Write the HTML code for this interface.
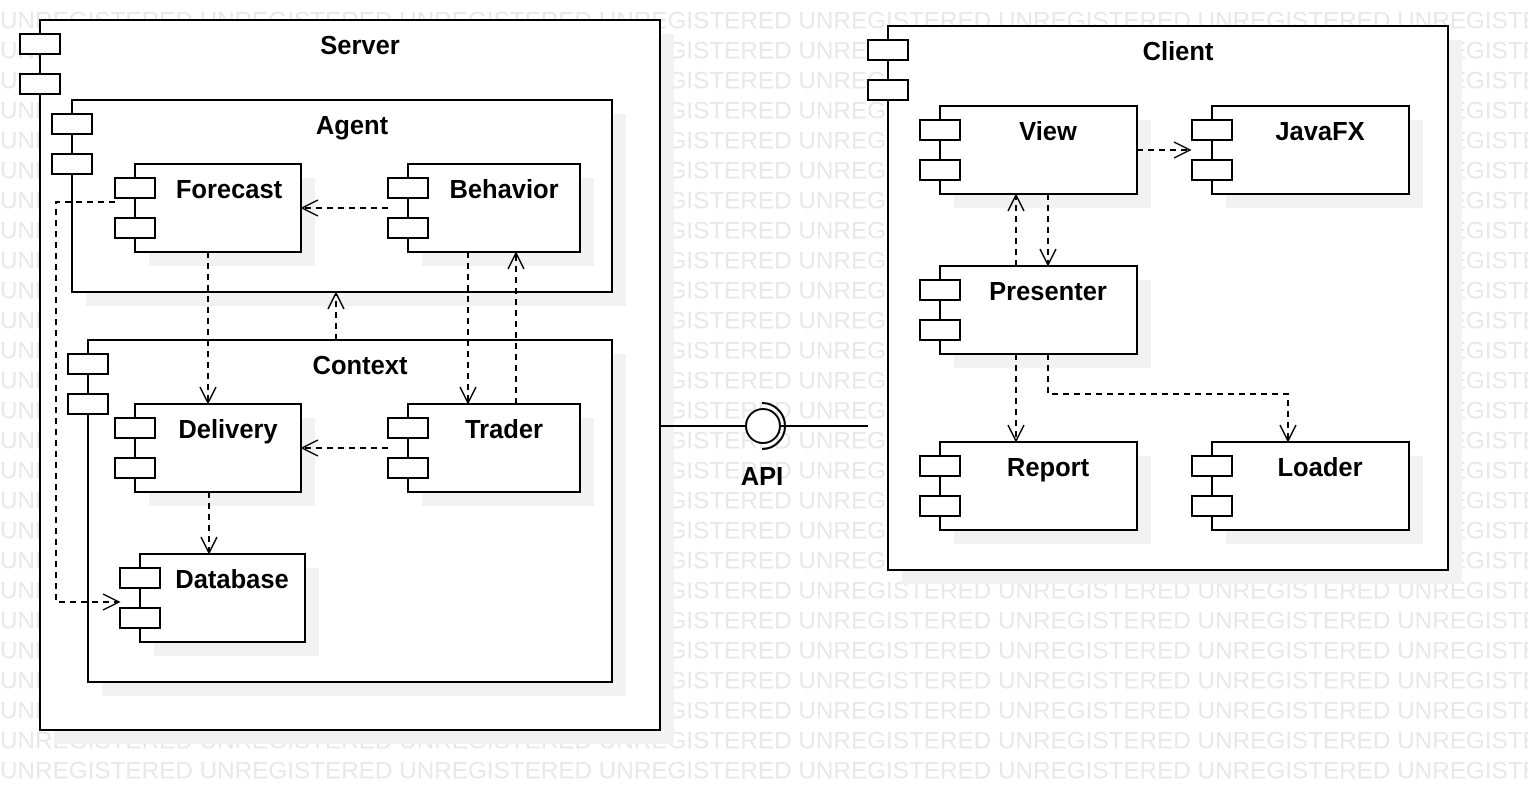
<!DOCTYPE html>
<html><head><meta charset="utf-8"><style>
html,body{margin:0;padding:0;background:#fff;width:1528px;height:810px;overflow:hidden}
svg{display:block}
.wm{font-family:"Liberation Sans",sans-serif;font-size:24px;fill:#e8e8e8}
.lb{font-family:"Liberation Sans",sans-serif;font-size:25.5px;font-weight:bold;fill:#000;text-anchor:middle}
.b{fill:#fff;stroke:#000;stroke-width:2}
.s{fill:#f2f2f2}
.d{fill:none;stroke:#000;stroke-width:2;stroke-dasharray:6,5}
.a{fill:none;stroke:#000;stroke-width:1.5}
</style></head><body>
<svg width="1528" height="810" xmlns="http://www.w3.org/2000/svg">
<g class="wm">
<text x="0" y="-1.5" textLength="1590" lengthAdjust="spacingAndGlyphs">UNREGISTERED UNREGISTERED UNREGISTERED UNREGISTERED UNREGISTERED UNREGISTERED UNREGISTERED UNREGISTERED</text>
<text x="0" y="28.5" textLength="1590" lengthAdjust="spacingAndGlyphs">UNREGISTERED UNREGISTERED UNREGISTERED UNREGISTERED UNREGISTERED UNREGISTERED UNREGISTERED UNREGISTERED</text>
<text x="0" y="58.5" textLength="1590" lengthAdjust="spacingAndGlyphs">UNREGISTERED UNREGISTERED UNREGISTERED UNREGISTERED UNREGISTERED UNREGISTERED UNREGISTERED UNREGISTERED</text>
<text x="0" y="88.5" textLength="1590" lengthAdjust="spacingAndGlyphs">UNREGISTERED UNREGISTERED UNREGISTERED UNREGISTERED UNREGISTERED UNREGISTERED UNREGISTERED UNREGISTERED</text>
<text x="0" y="118.5" textLength="1590" lengthAdjust="spacingAndGlyphs">UNREGISTERED UNREGISTERED UNREGISTERED UNREGISTERED UNREGISTERED UNREGISTERED UNREGISTERED UNREGISTERED</text>
<text x="0" y="148.5" textLength="1590" lengthAdjust="spacingAndGlyphs">UNREGISTERED UNREGISTERED UNREGISTERED UNREGISTERED UNREGISTERED UNREGISTERED UNREGISTERED UNREGISTERED</text>
<text x="0" y="178.5" textLength="1590" lengthAdjust="spacingAndGlyphs">UNREGISTERED UNREGISTERED UNREGISTERED UNREGISTERED UNREGISTERED UNREGISTERED UNREGISTERED UNREGISTERED</text>
<text x="0" y="208.5" textLength="1590" lengthAdjust="spacingAndGlyphs">UNREGISTERED UNREGISTERED UNREGISTERED UNREGISTERED UNREGISTERED UNREGISTERED UNREGISTERED UNREGISTERED</text>
<text x="0" y="238.5" textLength="1590" lengthAdjust="spacingAndGlyphs">UNREGISTERED UNREGISTERED UNREGISTERED UNREGISTERED UNREGISTERED UNREGISTERED UNREGISTERED UNREGISTERED</text>
<text x="0" y="268.5" textLength="1590" lengthAdjust="spacingAndGlyphs">UNREGISTERED UNREGISTERED UNREGISTERED UNREGISTERED UNREGISTERED UNREGISTERED UNREGISTERED UNREGISTERED</text>
<text x="0" y="298.5" textLength="1590" lengthAdjust="spacingAndGlyphs">UNREGISTERED UNREGISTERED UNREGISTERED UNREGISTERED UNREGISTERED UNREGISTERED UNREGISTERED UNREGISTERED</text>
<text x="0" y="328.5" textLength="1590" lengthAdjust="spacingAndGlyphs">UNREGISTERED UNREGISTERED UNREGISTERED UNREGISTERED UNREGISTERED UNREGISTERED UNREGISTERED UNREGISTERED</text>
<text x="0" y="358.5" textLength="1590" lengthAdjust="spacingAndGlyphs">UNREGISTERED UNREGISTERED UNREGISTERED UNREGISTERED UNREGISTERED UNREGISTERED UNREGISTERED UNREGISTERED</text>
<text x="0" y="388.5" textLength="1590" lengthAdjust="spacingAndGlyphs">UNREGISTERED UNREGISTERED UNREGISTERED UNREGISTERED UNREGISTERED UNREGISTERED UNREGISTERED UNREGISTERED</text>
<text x="0" y="418.5" textLength="1590" lengthAdjust="spacingAndGlyphs">UNREGISTERED UNREGISTERED UNREGISTERED UNREGISTERED UNREGISTERED UNREGISTERED UNREGISTERED UNREGISTERED</text>
<text x="0" y="448.5" textLength="1590" lengthAdjust="spacingAndGlyphs">UNREGISTERED UNREGISTERED UNREGISTERED UNREGISTERED UNREGISTERED UNREGISTERED UNREGISTERED UNREGISTERED</text>
<text x="0" y="478.5" textLength="1590" lengthAdjust="spacingAndGlyphs">UNREGISTERED UNREGISTERED UNREGISTERED UNREGISTERED UNREGISTERED UNREGISTERED UNREGISTERED UNREGISTERED</text>
<text x="0" y="508.5" textLength="1590" lengthAdjust="spacingAndGlyphs">UNREGISTERED UNREGISTERED UNREGISTERED UNREGISTERED UNREGISTERED UNREGISTERED UNREGISTERED UNREGISTERED</text>
<text x="0" y="538.5" textLength="1590" lengthAdjust="spacingAndGlyphs">UNREGISTERED UNREGISTERED UNREGISTERED UNREGISTERED UNREGISTERED UNREGISTERED UNREGISTERED UNREGISTERED</text>
<text x="0" y="568.5" textLength="1590" lengthAdjust="spacingAndGlyphs">UNREGISTERED UNREGISTERED UNREGISTERED UNREGISTERED UNREGISTERED UNREGISTERED UNREGISTERED UNREGISTERED</text>
<text x="0" y="598.5" textLength="1590" lengthAdjust="spacingAndGlyphs">UNREGISTERED UNREGISTERED UNREGISTERED UNREGISTERED UNREGISTERED UNREGISTERED UNREGISTERED UNREGISTERED</text>
<text x="0" y="628.5" textLength="1590" lengthAdjust="spacingAndGlyphs">UNREGISTERED UNREGISTERED UNREGISTERED UNREGISTERED UNREGISTERED UNREGISTERED UNREGISTERED UNREGISTERED</text>
<text x="0" y="658.5" textLength="1590" lengthAdjust="spacingAndGlyphs">UNREGISTERED UNREGISTERED UNREGISTERED UNREGISTERED UNREGISTERED UNREGISTERED UNREGISTERED UNREGISTERED</text>
<text x="0" y="688.5" textLength="1590" lengthAdjust="spacingAndGlyphs">UNREGISTERED UNREGISTERED UNREGISTERED UNREGISTERED UNREGISTERED UNREGISTERED UNREGISTERED UNREGISTERED</text>
<text x="0" y="718.5" textLength="1590" lengthAdjust="spacingAndGlyphs">UNREGISTERED UNREGISTERED UNREGISTERED UNREGISTERED UNREGISTERED UNREGISTERED UNREGISTERED UNREGISTERED</text>
<text x="0" y="748.5" textLength="1590" lengthAdjust="spacingAndGlyphs">UNREGISTERED UNREGISTERED UNREGISTERED UNREGISTERED UNREGISTERED UNREGISTERED UNREGISTERED UNREGISTERED</text>
<text x="0" y="778.5" textLength="1590" lengthAdjust="spacingAndGlyphs">UNREGISTERED UNREGISTERED UNREGISTERED UNREGISTERED UNREGISTERED UNREGISTERED UNREGISTERED UNREGISTERED</text>
</g>
<!-- Server -->
<rect class="s" x="54" y="34" width="620" height="710"/>
<rect class="b" x="40" y="20" width="620" height="710"/>
<rect class="b" x="20" y="34" width="40" height="20"/><rect class="b" x="20" y="74" width="40" height="20"/>
<text class="lb" x="360" y="54">Server</text>
<!-- Agent -->
<rect class="s" x="86" y="114" width="540" height="192"/>
<rect class="b" x="72" y="100" width="540" height="192"/>
<rect class="b" x="52" y="114" width="40" height="20"/><rect class="b" x="52" y="154" width="40" height="20"/>
<text class="lb" x="352" y="134">Agent</text>
<!-- Forecast -->
<rect class="s" x="149" y="178" width="166" height="88"/>
<rect class="b" x="135" y="164" width="166" height="88"/>
<rect class="b" x="115" y="178" width="40" height="20"/><rect class="b" x="115" y="218" width="40" height="20"/>
<text class="lb" x="229" y="198">Forecast</text>
<!-- Behavior -->
<rect class="s" x="422" y="178" width="172" height="88"/>
<rect class="b" x="408" y="164" width="172" height="88"/>
<rect class="b" x="388" y="178" width="40" height="20"/><rect class="b" x="388" y="218" width="40" height="20"/>
<text class="lb" x="504" y="198">Behavior</text>
<!-- Context -->
<rect class="s" x="102" y="354" width="524" height="342"/>
<rect class="b" x="88" y="340" width="524" height="342"/>
<rect class="b" x="68" y="354" width="40" height="20"/><rect class="b" x="68" y="394" width="40" height="20"/>
<text class="lb" x="360" y="374">Context</text>
<!-- Delivery -->
<rect class="s" x="149" y="418" width="166" height="88"/>
<rect class="b" x="135" y="404" width="166" height="88"/>
<rect class="b" x="115" y="418" width="40" height="20"/><rect class="b" x="115" y="458" width="40" height="20"/>
<text class="lb" x="228" y="438">Delivery</text>
<!-- Trader -->
<rect class="s" x="422" y="418" width="172" height="88"/>
<rect class="b" x="408" y="404" width="172" height="88"/>
<rect class="b" x="388" y="418" width="40" height="20"/><rect class="b" x="388" y="458" width="40" height="20"/>
<text class="lb" x="504" y="438">Trader</text>
<!-- Database -->
<rect class="s" x="154" y="568" width="165" height="88"/>
<rect class="b" x="140" y="554" width="165" height="88"/>
<rect class="b" x="120" y="568" width="40" height="20"/><rect class="b" x="120" y="608" width="40" height="20"/>
<text class="lb" x="232" y="588">Database</text>
<!-- Client -->
<rect class="s" x="902" y="40" width="560" height="544"/>
<rect class="b" x="888" y="26" width="560" height="544"/>
<rect class="b" x="868" y="40" width="40" height="20"/><rect class="b" x="868" y="80" width="40" height="20"/>
<text class="lb" x="1178" y="60">Client</text>
<!-- View -->
<rect class="s" x="954" y="120" width="197" height="88"/>
<rect class="b" x="940" y="106" width="197" height="88"/>
<rect class="b" x="920" y="120" width="40" height="20"/><rect class="b" x="920" y="160" width="40" height="20"/>
<text class="lb" x="1048" y="140">View</text>
<!-- JavaFX -->
<rect class="s" x="1226" y="120" width="197" height="88"/>
<rect class="b" x="1212" y="106" width="197" height="88"/>
<rect class="b" x="1192" y="120" width="40" height="20"/><rect class="b" x="1192" y="160" width="40" height="20"/>
<text class="lb" x="1320" y="140">JavaFX</text>
<!-- Presenter -->
<rect class="s" x="954" y="280" width="197" height="88"/>
<rect class="b" x="940" y="266" width="197" height="88"/>
<rect class="b" x="920" y="280" width="40" height="20"/><rect class="b" x="920" y="320" width="40" height="20"/>
<text class="lb" x="1048" y="300">Presenter</text>
<!-- Report -->
<rect class="s" x="954" y="456" width="197" height="88"/>
<rect class="b" x="940" y="442" width="197" height="88"/>
<rect class="b" x="920" y="456" width="40" height="20"/><rect class="b" x="920" y="496" width="40" height="20"/>
<text class="lb" x="1048" y="476">Report</text>
<!-- Loader -->
<rect class="s" x="1226" y="456" width="197" height="88"/>
<rect class="b" x="1212" y="442" width="197" height="88"/>
<rect class="b" x="1192" y="456" width="40" height="20"/><rect class="b" x="1192" y="496" width="40" height="20"/>
<text class="lb" x="1320" y="476">Loader</text>

<!-- connectors -->
<path class="d" d="M388 208 H302"/><path class="a" d="M318 200 L302 208 L318 216"/>
<path class="d" d="M115 202 H56 V602 H119"/><path class="a" d="M103 594 L119 602 L103 610"/>
<path class="d" d="M208 252 V403"/><path class="a" d="M200 387 L208 403 L216 387"/>
<path class="d" d="M468 252 V403"/><path class="a" d="M460 387 L468 403 L476 387"/>
<path class="d" d="M516 404 V253"/><path class="a" d="M508 269 L516 253 L524 269"/>
<path class="d" d="M336 340 V293"/><path class="a" d="M328 309 L336 293 L344 309"/>
<path class="d" d="M388 448 H302"/><path class="a" d="M318 440 L302 448 L318 456"/>
<path class="d" d="M209 492 V553"/><path class="a" d="M201 537 L209 553 L217 537"/>
<path class="d" d="M1137 150 H1190"/><path class="a" d="M1174 142 L1190 150 L1174 158"/>
<path class="d" d="M1016 266 V195"/><path class="a" d="M1008 211 L1016 195 L1024 211"/>
<path class="d" d="M1048 194 V265"/><path class="a" d="M1040 249 L1048 265 L1056 249"/>
<path class="d" d="M1016 354 V441"/><path class="a" d="M1008 425 L1016 441 L1024 425"/>
<path class="d" d="M1048 354 V394 H1288 V441"/><path class="a" d="M1280 425 L1288 441 L1296 425"/>

<!-- API -->
<path d="M660 426 H745 M781 426 H868" stroke="#000" stroke-width="2" fill="none"/>
<circle cx="763" cy="426" r="17" fill="#fff" stroke="#000" stroke-width="2"/>
<path d="M762 403 A23 23 0 0 1 762 449" fill="none" stroke="#000" stroke-width="2"/>
<text class="lb" x="762" y="485">API</text>
</svg>
</body></html>
